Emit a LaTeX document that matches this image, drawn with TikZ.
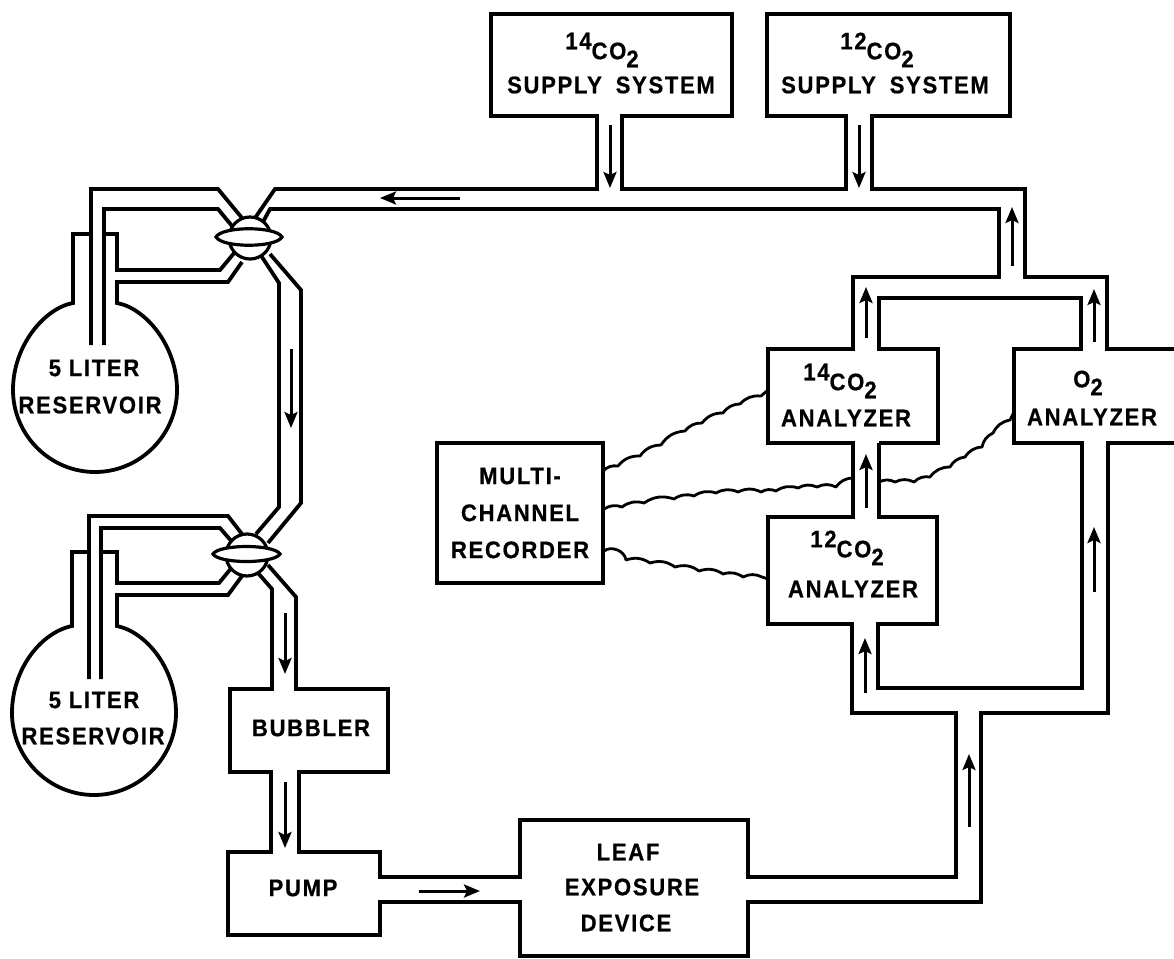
\documentclass[tikz,border=0pt]{standalone}
\usepackage{fontspec}
\setmainfont[LetterSpace=7,FakeStretch=0.92,BoldFont={Liberation Sans Bold},BoldFeatures={LetterSpace=7,FakeStretch=0.92,FakeBold=0.6}]{Liberation Sans}
\usetikzlibrary{arrows.meta}
\newcommand{\isoco}[1]{\raisebox{10pt}{#1}CO\raisebox{-8pt}{2}}
\tikzset{
  pipe/.style={line width=3.8pt,line join=miter},
  flow/.style={line width=3pt,-{Stealth[length=16pt,width=13pt,inset=3pt]}},
  wire/.style={line width=2.8pt,line join=round,every to/.style={bend left=26}},
  lens/.style={line width=3.2pt,fill=white},
  lab/.style={font=\fontsize{24}{36}\selectfont\bfseries,align=center,inner sep=0pt},
  recbox/.style={draw,line width=3.8pt,minimum width=166pt,minimum height=140pt,inner sep=0pt,
    font=\fontsize{24}{37}\selectfont\bfseries,align=center}
}
\begin{document}
\begin{tikzpicture}[x=1pt,y=-1pt]
\useasboundingbox (0,0) rectangle (1174,958);
\fill[white] (0,0) rectangle (1174,958);
% top reservoir
\draw[pipe] (235,252) -- (220,270) -- (117,270) -- (117,234) -- (104,234);
\draw[pipe] (91,234) -- (73,234) -- (73,303) .. controls (45,308) and (13,345) .. (13,390)
  .. controls (13,435) and (50,472) .. (95,472) .. controls (140,472) and (177,435) .. (177,390)
  .. controls (177,345) and (145,308) .. (117,303) -- (117,282) -- (228,282) -- (242,262);
\draw[pipe] (91,345) -- (91,189) -- (218,189) -- (242,218);
\draw[pipe] (104,345) -- (104,209) -- (218,209) -- (232,226);
\draw[pipe] (255,218) -- (275,189) -- (597,189) -- (597,116) -- (491,116) -- (491,14) -- (732,14) -- (732,116) -- (622,116) -- (622,189)
  -- (846,189) -- (846,116) -- (767,116) -- (767,14) -- (1010,14) -- (1010,116) -- (872,116) -- (872,189)
  -- (1025,189) -- (1025,277) -- (1107,277) -- (1107,349) -- (1176,349);
\draw[pipe] (263,222) -- (270,209) -- (999,209) -- (999,277) -- (853,277) -- (853,349) -- (768,349) -- (768,443) -- (853,443) -- (853,517)
  -- (768,517) -- (768,624) -- (852,624) -- (852,713) -- (956,713) -- (956,877) -- (748,877) -- (748,820) -- (520,820) -- (520,877)
  -- (380,877) -- (380,852) -- (299,852) -- (299,772) -- (388,772) -- (388,689) -- (296,689) -- (296,597) -- (268,565);
\draw[pipe] (258,573) -- (272,589) -- (272,689) -- (230,689) -- (230,772) -- (271,772) -- (271,852) -- (228,852) -- (228,935)
  -- (380,935) -- (380,902) -- (520,902) -- (520,956) -- (748,956) -- (748,902) -- (981,902) -- (981,713) -- (1108,713) -- (1108,443) -- (1176,443);
\draw[pipe] (879,443) -- (938,443) -- (938,349) -- (879,349) -- (879,298) -- (1081,298) -- (1081,349) -- (1014,349) -- (1014,443) -- (1082,443)
  -- (1082,688) -- (878,688) -- (878,624) -- (937,624) -- (937,517) -- (879,517) -- (879,443);
% link between valves
\draw[pipe] (260,254) -- (279,283) -- (279,507) -- (256,534);
\draw[pipe] (270,254) -- (301,290) -- (301,503) -- (268,543);
% lower reservoir
\draw[pipe] (101,552) -- (117,552) -- (117,583) -- (219,583) -- (233,566);
\draw[pipe] (89,552) -- (72,552) -- (72,626) .. controls (42,632) and (12,668) .. (12,713)
  .. controls (12,758) and (49,795) .. (94,795) .. controls (139,795) and (176,758) .. (176,713)
  .. controls (176,668) and (146,632) .. (117,626) -- (117,595) -- (228,595) -- (242,576);
\draw[pipe] (89,679) -- (89,516) -- (228,516) -- (242,534);
\draw[pipe] (101,679) -- (101,528) -- (220,528) -- (233,543);
% valves
\draw[lens] (250,238) circle[radius=21];
\draw[lens] (216,237) .. controls (222,226) and (276,226) .. (282,237) .. controls (276,248) and (222,248) .. (216,237) -- cycle;
\draw[lens] (247,555) circle[radius=21];
\draw[lens] (213,554) .. controls (219,544) and (274,544) .. (280,554) .. controls (274,564) and (219,564) .. (213,554) -- cycle;
% flow arrows
\draw[flow] (460,198) -- (380,198);
\draw[flow] (610,125) -- (610,188);
\draw[flow] (859,125) -- (859,188);
\draw[flow] (291,349) -- (291,428);
\draw[flow] (285,613) -- (285,674);
\draw[flow] (285,782) -- (285,848);
\draw[flow] (419,891) -- (480,891);
\draw[flow] (969,827) -- (969,754);
\draw[flow] (865,693) -- (865,638);
\draw[flow] (866,508) -- (866,454);
\draw[flow] (866,338) -- (866,287);
\draw[flow] (1012,266) -- (1012,207);
\draw[flow] (1094,342) -- (1094,289);
\draw[flow] (1094,592) -- (1094,527);
% recorder
\node[recbox] (rec) at (520,513) {MULTI-\\CHANNEL\\RECORDER};
% wires
\coordinate (w1a) at (603,471); \coordinate (w1b) at (768,390);
\coordinate (w2a) at (604,509); \coordinate (w2b) at (853,478);
\coordinate (w2c) at (879,482); \coordinate (w2d) at (1014,412);
\coordinate (w3a) at (604,551); \coordinate (w3b) at (768,579);
\draw[wire] (w1a) to (618,466) to (640,456) to (661,445) to (685,431) to (702,423) to (723,413) to (740,404) to (761,396) -- (w1b);
\draw[wire] (w2a) to (622,507) to (644,503) to (674,499) to (694,496) to (716,493) to (738,492) to (761,492) to (776,491) to (798,488) to (817,487) to (836,487) to (w2b);
\draw[wire] (w2c) to (895,482) to (914,482) to (930,477) to (950,467) to (965,457) to (982,447) to (993,433) to (1010,420) -- (w2d);
\draw[wire] (w3a) to[bend left=60] (626,560) to (650,563) to (675,567) to (699,571) to (723,574) to (743,577) to (762,577) -- (w3b);
% labels
\node[lab] (t1) at (94,368) {5 LITER};
\node[lab] (t2) at (90,405) {RESERVOIR};
\node[lab] (t3) at (94,700) {5 LITER};
\node[lab] (t4) at (93,736) {RESERVOIR};
\node[lab] (t5) at (311,728) {BUBBLER};
\node[lab] (t6) at (303,888) {PUMP};
\node[lab] (t7) at (628,852) {LEAF};
\node[lab] (t8) at (632,887) {EXPOSURE};
\node[lab] (t9) at (626,923) {DEVICE};
\node[lab] (t10) at (602,50) {\isoco{14}};
\node[lab] (t11) at (611,85) {SUPPLY\hspace{6pt} SYSTEM};
\node[lab] (t12) at (877,50) {\isoco{12}};
\node[lab] (t13) at (885,85) {SUPPLY\hspace{6pt} SYSTEM};
\node[lab] (t14) at (840,381) {\isoco{14}};
\node[lab] (t15) at (846,418) {ANALYZER};
\node[lab] (t16) at (847,548) {\isoco{12}};
\node[lab] (t17) at (853,589) {ANALYZER};
\node[lab] (t18) at (1088,383) {O\raisebox{-8pt}{2}};
\node[lab] (t19) at (1092,417) {ANALYZER};
\end{tikzpicture}
\end{document}
